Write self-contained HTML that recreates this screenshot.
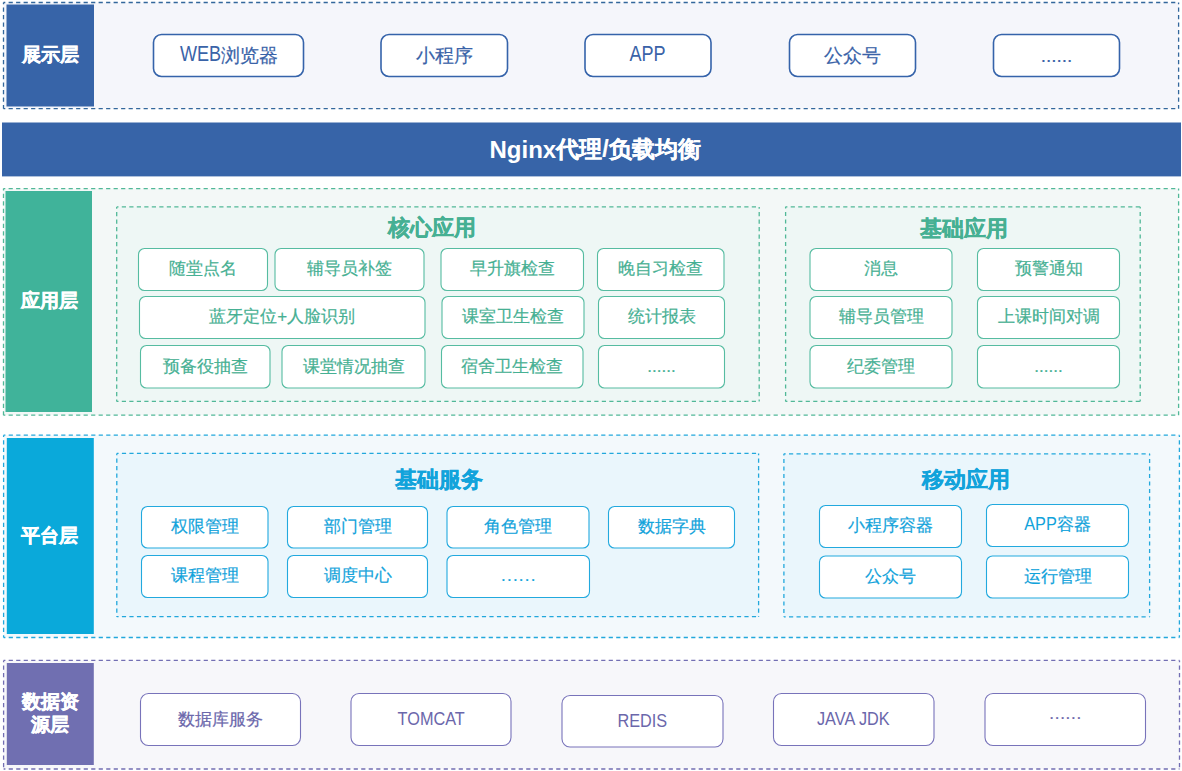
<!DOCTYPE html>
<html><head><meta charset="utf-8"><style>
html,body{margin:0;padding:0;background:#fff;}
body{width:1182px;height:771px;position:relative;overflow:hidden;font-family:"Liberation Sans",sans-serif;}
svg{position:absolute;left:0;top:0;}
.l{display:inline-block;transform-origin:50% 50%;-webkit-text-stroke-width:0;}
.t{position:absolute;display:flex;align-items:center;justify-content:center;text-align:center;white-space:nowrap;line-height:1;}
</style></head><body>
<svg width="1182" height="771" viewBox="0 0 1182 771">
<rect x="3.5" y="2.5" width="1175.10" height="106.20" fill="#f5f6fb"/>
<line x1="3.5" y1="2.5" x2="1178.6" y2="2.5" stroke="#33679c" stroke-width="1.3" stroke-dasharray="4.2 3.3" stroke-dashoffset="2.4"/>
<line x1="3.5" y1="2.5" x2="3.5" y2="108.7" stroke="#33679c" stroke-width="1.3" stroke-dasharray="4.2 3.3" stroke-dashoffset="2.4"/>
<line x1="1178.6" y1="2.5" x2="1178.6" y2="108.7" stroke="#33679c" stroke-width="1.3" stroke-dasharray="4.2 3.3" stroke-dashoffset="2.4"/>
<line x1="3.5" y1="108.7" x2="1178.6" y2="108.7" stroke="#33679c" stroke-width="1.3" stroke-dasharray="4.2 3.3" stroke-dashoffset="2.4"/>
<rect x="6.5" y="4.5" width="87.50" height="102.00" rx="0" fill="#3764a8" stroke="none" stroke-width="1"/>
<rect x="153.5" y="34.5" width="150.00" height="42.00" rx="8" fill="#fff" stroke="#3563aa" stroke-width="1.6"/>
<rect x="381" y="34.5" width="126.50" height="42.00" rx="8" fill="#fff" stroke="#3563aa" stroke-width="1.6"/>
<rect x="585" y="34.5" width="126.00" height="42.00" rx="8" fill="#fff" stroke="#3563aa" stroke-width="1.6"/>
<rect x="789.5" y="34.5" width="126.00" height="42.00" rx="8" fill="#fff" stroke="#3563aa" stroke-width="1.6"/>
<rect x="993.5" y="34.5" width="126.00" height="42.00" rx="8" fill="#fff" stroke="#3563aa" stroke-width="1.6"/>
<rect x="2" y="122.5" width="1179.00" height="53.90" rx="0" fill="#3764a8" stroke="none" stroke-width="1"/>
<rect x="3.5" y="188.6" width="1175.10" height="226.60" fill="#f3f8f7"/>
<line x1="3.5" y1="188.6" x2="1178.6" y2="188.6" stroke="#52b898" stroke-width="1.3" stroke-dasharray="4.2 3.3" stroke-dashoffset="2.4"/>
<line x1="3.5" y1="188.6" x2="3.5" y2="415.2" stroke="#52b898" stroke-width="1.3" stroke-dasharray="4.2 3.3" stroke-dashoffset="2.4"/>
<line x1="1178.6" y1="188.6" x2="1178.6" y2="415.2" stroke="#52b898" stroke-width="1.3" stroke-dasharray="4.2 3.3" stroke-dashoffset="2.4"/>
<line x1="3.5" y1="415.2" x2="1178.6" y2="415.2" stroke="#52b898" stroke-width="1.3" stroke-dasharray="4.2 3.3" stroke-dashoffset="2.4"/>
<rect x="5.5" y="191" width="86.50" height="221.00" rx="0" fill="#40b39a" stroke="none" stroke-width="1"/>
<rect x="116.7" y="206.9" width="642.50" height="194.50" fill="#eef7f5"/>
<line x1="116.7" y1="206.9" x2="759.2" y2="206.9" stroke="#52b898" stroke-width="1.3" stroke-dasharray="4.2 3.3" stroke-dashoffset="2.4"/>
<line x1="116.7" y1="206.9" x2="116.7" y2="401.4" stroke="#52b898" stroke-width="1.3" stroke-dasharray="4.2 3.3" stroke-dashoffset="2.4"/>
<line x1="759.2" y1="206.9" x2="759.2" y2="401.4" stroke="#52b898" stroke-width="1.3" stroke-dasharray="4.2 3.3" stroke-dashoffset="2.4"/>
<line x1="116.7" y1="401.4" x2="759.2" y2="401.4" stroke="#52b898" stroke-width="1.3" stroke-dasharray="4.2 3.3" stroke-dashoffset="2.4"/>
<rect x="785.6" y="206.8" width="354.60" height="194.60" fill="#eef7f5"/>
<line x1="785.6" y1="206.8" x2="1140.2" y2="206.8" stroke="#52b898" stroke-width="1.3" stroke-dasharray="4.2 3.3" stroke-dashoffset="2.4"/>
<line x1="785.6" y1="206.8" x2="785.6" y2="401.4" stroke="#52b898" stroke-width="1.3" stroke-dasharray="4.2 3.3" stroke-dashoffset="2.4"/>
<line x1="1140.2" y1="206.8" x2="1140.2" y2="401.4" stroke="#52b898" stroke-width="1.3" stroke-dasharray="4.2 3.3" stroke-dashoffset="2.4"/>
<line x1="785.6" y1="401.4" x2="1140.2" y2="401.4" stroke="#52b898" stroke-width="1.3" stroke-dasharray="4.2 3.3" stroke-dashoffset="2.4"/>
<rect x="138.5" y="248.5" width="129.00" height="42.00" rx="6" fill="#fff" stroke="#56bca1" stroke-width="1.1"/>
<rect x="275" y="248.5" width="149.00" height="42.00" rx="6" fill="#fff" stroke="#56bca1" stroke-width="1.1"/>
<rect x="441" y="248.5" width="142.50" height="42.00" rx="6" fill="#fff" stroke="#56bca1" stroke-width="1.1"/>
<rect x="597.5" y="248.5" width="126.50" height="42.00" rx="6" fill="#fff" stroke="#56bca1" stroke-width="1.1"/>
<rect x="139.5" y="296.5" width="285.50" height="42.00" rx="6" fill="#fff" stroke="#56bca1" stroke-width="1.1"/>
<rect x="442" y="296.5" width="142.00" height="42.00" rx="6" fill="#fff" stroke="#56bca1" stroke-width="1.1"/>
<rect x="598.5" y="296.5" width="126.00" height="42.00" rx="6" fill="#fff" stroke="#56bca1" stroke-width="1.1"/>
<rect x="140.5" y="345.5" width="129.50" height="42.50" rx="6" fill="#fff" stroke="#56bca1" stroke-width="1.1"/>
<rect x="282" y="345.5" width="143.00" height="42.50" rx="6" fill="#fff" stroke="#56bca1" stroke-width="1.1"/>
<rect x="441.5" y="345.5" width="141.50" height="42.50" rx="6" fill="#fff" stroke="#56bca1" stroke-width="1.1"/>
<rect x="598.5" y="345.5" width="126.00" height="42.50" rx="6" fill="#fff" stroke="#56bca1" stroke-width="1.1"/>
<rect x="810" y="248.5" width="142.00" height="42.00" rx="6" fill="#fff" stroke="#56bca1" stroke-width="1.1"/>
<rect x="977.5" y="248.5" width="142.00" height="42.00" rx="6" fill="#fff" stroke="#56bca1" stroke-width="1.1"/>
<rect x="810" y="296.5" width="142.00" height="42.00" rx="6" fill="#fff" stroke="#56bca1" stroke-width="1.1"/>
<rect x="977.5" y="296.5" width="142.00" height="42.00" rx="6" fill="#fff" stroke="#56bca1" stroke-width="1.1"/>
<rect x="810" y="345.5" width="142.00" height="42.50" rx="6" fill="#fff" stroke="#56bca1" stroke-width="1.1"/>
<rect x="977.5" y="345.5" width="142.00" height="42.50" rx="6" fill="#fff" stroke="#56bca1" stroke-width="1.1"/>
<rect x="3.6" y="435.2" width="1175.80" height="202.30" fill="#f3f9fc"/>
<line x1="3.6" y1="435.2" x2="1179.4" y2="435.2" stroke="#22a8dc" stroke-width="1.3" stroke-dasharray="4.2 3.3" stroke-dashoffset="2.4"/>
<line x1="3.6" y1="435.2" x2="3.6" y2="637.5" stroke="#22a8dc" stroke-width="1.3" stroke-dasharray="4.2 3.3" stroke-dashoffset="2.4"/>
<line x1="1179.4" y1="435.2" x2="1179.4" y2="637.5" stroke="#22a8dc" stroke-width="1.3" stroke-dasharray="4.2 3.3" stroke-dashoffset="2.4"/>
<line x1="3.6" y1="637.5" x2="1179.4" y2="637.5" stroke="#22a8dc" stroke-width="1.3" stroke-dasharray="4.2 3.3" stroke-dashoffset="2.4"/>
<rect x="6.8" y="438" width="87.00" height="196.00" rx="0" fill="#0aa9da" stroke="none" stroke-width="1"/>
<rect x="116.8" y="453.4" width="641.80" height="163.30" fill="#eaf6fc"/>
<line x1="116.8" y1="453.4" x2="758.6" y2="453.4" stroke="#22a8dc" stroke-width="1.3" stroke-dasharray="4.2 3.3" stroke-dashoffset="2.4"/>
<line x1="116.8" y1="453.4" x2="116.8" y2="616.7" stroke="#22a8dc" stroke-width="1.3" stroke-dasharray="4.2 3.3" stroke-dashoffset="2.4"/>
<line x1="758.6" y1="453.4" x2="758.6" y2="616.7" stroke="#22a8dc" stroke-width="1.3" stroke-dasharray="4.2 3.3" stroke-dashoffset="2.4"/>
<line x1="116.8" y1="616.7" x2="758.6" y2="616.7" stroke="#22a8dc" stroke-width="1.3" stroke-dasharray="4.2 3.3" stroke-dashoffset="2.4"/>
<rect x="783.9" y="453.8" width="365.70" height="163.10" fill="#eaf6fc"/>
<line x1="783.9" y1="453.8" x2="1149.6" y2="453.8" stroke="#22a8dc" stroke-width="1.3" stroke-dasharray="4.2 3.3" stroke-dashoffset="2.4"/>
<line x1="783.9" y1="453.8" x2="783.9" y2="616.9" stroke="#22a8dc" stroke-width="1.3" stroke-dasharray="4.2 3.3" stroke-dashoffset="2.4"/>
<line x1="1149.6" y1="453.8" x2="1149.6" y2="616.9" stroke="#22a8dc" stroke-width="1.3" stroke-dasharray="4.2 3.3" stroke-dashoffset="2.4"/>
<line x1="783.9" y1="616.9" x2="1149.6" y2="616.9" stroke="#22a8dc" stroke-width="1.3" stroke-dasharray="4.2 3.3" stroke-dashoffset="2.4"/>
<rect x="141.5" y="506.5" width="126.50" height="41.50" rx="6" fill="#fff" stroke="#22a9de" stroke-width="1.1"/>
<rect x="287.5" y="506.5" width="140.00" height="41.50" rx="6" fill="#fff" stroke="#22a9de" stroke-width="1.1"/>
<rect x="447" y="506.5" width="142.00" height="41.50" rx="6" fill="#fff" stroke="#22a9de" stroke-width="1.1"/>
<rect x="608.5" y="506.5" width="126.00" height="41.50" rx="6" fill="#fff" stroke="#22a9de" stroke-width="1.1"/>
<rect x="141.5" y="555.5" width="126.50" height="42.00" rx="6" fill="#fff" stroke="#22a9de" stroke-width="1.1"/>
<rect x="287.5" y="555.5" width="140.00" height="42.00" rx="6" fill="#fff" stroke="#22a9de" stroke-width="1.1"/>
<rect x="447" y="555.5" width="142.50" height="42.00" rx="6" fill="#fff" stroke="#22a9de" stroke-width="1.1"/>
<rect x="819.5" y="505.5" width="142.00" height="42.00" rx="6" fill="#fff" stroke="#22a9de" stroke-width="1.1"/>
<rect x="986.5" y="504.5" width="142.00" height="42.00" rx="6" fill="#fff" stroke="#22a9de" stroke-width="1.1"/>
<rect x="819.5" y="556" width="142.00" height="42.00" rx="6" fill="#fff" stroke="#22a9de" stroke-width="1.1"/>
<rect x="986.5" y="556" width="142.00" height="42.00" rx="6" fill="#fff" stroke="#22a9de" stroke-width="1.1"/>
<rect x="3.6" y="660.4" width="1175.90" height="108.60" fill="#f7f7fa"/>
<line x1="3.6" y1="660.4" x2="1179.5" y2="660.4" stroke="#736fb3" stroke-width="1.3" stroke-dasharray="4.2 3.3" stroke-dashoffset="2.4"/>
<line x1="3.6" y1="660.4" x2="3.6" y2="769" stroke="#736fb3" stroke-width="1.3" stroke-dasharray="4.2 3.3" stroke-dashoffset="2.4"/>
<line x1="1179.5" y1="660.4" x2="1179.5" y2="769" stroke="#736fb3" stroke-width="1.3" stroke-dasharray="4.2 3.3" stroke-dashoffset="2.4"/>
<line x1="3.6" y1="769" x2="1179.5" y2="769" stroke="#736fb3" stroke-width="1.3" stroke-dasharray="4.2 3.3" stroke-dashoffset="2.4"/>
<rect x="6.8" y="663" width="87.00" height="102.00" rx="0" fill="#706fb1" stroke="none" stroke-width="1"/>
<rect x="140.5" y="693.5" width="160.00" height="52.00" rx="8" fill="#fff" stroke="#7873ba" stroke-width="1.1"/>
<rect x="351" y="693.5" width="160.00" height="52.00" rx="8" fill="#fff" stroke="#7873ba" stroke-width="1.1"/>
<rect x="562" y="695.5" width="161.00" height="51.50" rx="8" fill="#fff" stroke="#7873ba" stroke-width="1.1"/>
<rect x="773.5" y="693.5" width="160.50" height="52.00" rx="8" fill="#fff" stroke="#7873ba" stroke-width="1.1"/>
<rect x="985" y="693.5" width="160.50" height="52.00" rx="8" fill="#fff" stroke="#7873ba" stroke-width="1.1"/>
</svg>
<div class="t" style="left:-149.70px;top:25.50px;width:400.00px;height:60.00px;color:#fff;font-size:18.5px;font-weight:700;-webkit-text-stroke:0.45px #fff">展示层</div>
<div class="t" style="left:153.50px;top:34.00px;width:150.00px;height:42.00px;color:#3a63a8;font-size:19px;font-weight:400;-webkit-text-stroke:0.2px #3a63a8"><span class="l" style="font-size:21.5px;transform:scaleX(0.84);position:relative;top:0px;margin:0 -3.92px;">WEB</span>浏览器</div>
<div class="t" style="left:381.00px;top:34.00px;width:126.50px;height:42.00px;color:#3a63a8;font-size:19px;font-weight:400;-webkit-text-stroke:0.2px #3a63a8">小程序</div>
<div class="t" style="left:585.00px;top:34.00px;width:126.00px;height:42.00px;color:#3a63a8;font-size:19px;font-weight:400;-webkit-text-stroke:0.2px #3a63a8"><span class="l" style="font-size:21.5px;transform:scaleX(0.84);position:relative;top:0px;margin:0 -3.44px;">APP</span></div>
<div class="t" style="left:789.50px;top:34.00px;width:126.00px;height:42.00px;color:#3a63a8;font-size:19px;font-weight:400;-webkit-text-stroke:0.2px #3a63a8">公众号</div>
<div class="t" style="left:993.50px;top:34.00px;width:126.00px;height:42.00px;color:#3a63a8;font-size:19px;font-weight:400;-webkit-text-stroke:0.2px #3a63a8">......</div>
<div class="t" style="left:395.00px;top:119.50px;width:400.00px;height:60.00px;color:#fff;font-size:23px;font-weight:700;-webkit-text-stroke:0.2px #fff"><span class="l" style="font-size:24px;transform:scaleX(1.0);position:relative;top:0px;margin:0 -0.00px;">Nginx</span>代理/负载均衡</div>
<div class="t" style="left:-150.70px;top:271.50px;width:400.00px;height:60.00px;color:#fff;font-size:18.5px;font-weight:700;-webkit-text-stroke:0.45px #fff">应用层</div>
<div class="t" style="left:232.00px;top:198.30px;width:400.00px;height:60.00px;color:#46b093;font-size:22px;font-weight:700;-webkit-text-stroke:0.35px #46b093">核心应用</div>
<div class="t" style="left:763.80px;top:199.00px;width:400.00px;height:60.00px;color:#46b093;font-size:22px;font-weight:700;-webkit-text-stroke:0.35px #46b093">基础应用</div>
<div class="t" style="left:138.50px;top:247.80px;width:129.00px;height:42.00px;color:#46b093;font-size:17px;font-weight:400;-webkit-text-stroke:0.2px #46b093">随堂点名</div>
<div class="t" style="left:275.00px;top:247.80px;width:149.00px;height:42.00px;color:#46b093;font-size:17px;font-weight:400;-webkit-text-stroke:0.2px #46b093">辅导员补签</div>
<div class="t" style="left:441.00px;top:247.80px;width:142.50px;height:42.00px;color:#46b093;font-size:17px;font-weight:400;-webkit-text-stroke:0.2px #46b093">早升旗检查</div>
<div class="t" style="left:597.50px;top:247.80px;width:126.50px;height:42.00px;color:#46b093;font-size:17px;font-weight:400;-webkit-text-stroke:0.2px #46b093">晚自习检查</div>
<div class="t" style="left:139.50px;top:295.80px;width:285.50px;height:42.00px;color:#46b093;font-size:17px;font-weight:400;-webkit-text-stroke:0.2px #46b093">蓝牙定位+人脸识别</div>
<div class="t" style="left:442.00px;top:295.80px;width:142.00px;height:42.00px;color:#46b093;font-size:17px;font-weight:400;-webkit-text-stroke:0.2px #46b093">课室卫生检查</div>
<div class="t" style="left:598.50px;top:295.80px;width:126.00px;height:42.00px;color:#46b093;font-size:17px;font-weight:400;-webkit-text-stroke:0.2px #46b093">统计报表</div>
<div class="t" style="left:140.50px;top:344.80px;width:129.50px;height:42.50px;color:#46b093;font-size:17px;font-weight:400;-webkit-text-stroke:0.2px #46b093">预备役抽查</div>
<div class="t" style="left:282.00px;top:344.80px;width:143.00px;height:42.50px;color:#46b093;font-size:17px;font-weight:400;-webkit-text-stroke:0.2px #46b093">课堂情况抽查</div>
<div class="t" style="left:441.50px;top:344.80px;width:141.50px;height:42.50px;color:#46b093;font-size:17px;font-weight:400;-webkit-text-stroke:0.2px #46b093">宿舍卫生检查</div>
<div class="t" style="left:598.50px;top:344.80px;width:126.00px;height:42.50px;color:#46b093;font-size:17px;font-weight:400;-webkit-text-stroke:0.2px #46b093">......</div>
<div class="t" style="left:810.00px;top:247.80px;width:142.00px;height:42.00px;color:#46b093;font-size:17px;font-weight:400;-webkit-text-stroke:0.2px #46b093">消息</div>
<div class="t" style="left:977.50px;top:247.80px;width:142.00px;height:42.00px;color:#46b093;font-size:17px;font-weight:400;-webkit-text-stroke:0.2px #46b093">预警通知</div>
<div class="t" style="left:810.00px;top:295.80px;width:142.00px;height:42.00px;color:#46b093;font-size:17px;font-weight:400;-webkit-text-stroke:0.2px #46b093">辅导员管理</div>
<div class="t" style="left:977.50px;top:295.80px;width:142.00px;height:42.00px;color:#46b093;font-size:17px;font-weight:400;-webkit-text-stroke:0.2px #46b093">上课时间对调</div>
<div class="t" style="left:810.00px;top:344.80px;width:142.00px;height:42.50px;color:#46b093;font-size:17px;font-weight:400;-webkit-text-stroke:0.2px #46b093">纪委管理</div>
<div class="t" style="left:977.50px;top:344.80px;width:142.00px;height:42.50px;color:#46b093;font-size:17px;font-weight:400;-webkit-text-stroke:0.2px #46b093">......</div>
<div class="t" style="left:-150.20px;top:506.00px;width:400.00px;height:60.00px;color:#fff;font-size:18.5px;font-weight:700;-webkit-text-stroke:0.45px #fff">平台层</div>
<div class="t" style="left:238.60px;top:450.00px;width:400.00px;height:60.00px;color:#12a3db;font-size:22px;font-weight:700;-webkit-text-stroke:0.35px #12a3db">基础服务</div>
<div class="t" style="left:765.90px;top:450.00px;width:400.00px;height:60.00px;color:#12a3db;font-size:22px;font-weight:700;-webkit-text-stroke:0.35px #12a3db">移动应用</div>
<div class="t" style="left:141.50px;top:505.50px;width:126.50px;height:41.50px;color:#12a3db;font-size:17px;font-weight:400;-webkit-text-stroke:0.2px #12a3db">权限管理</div>
<div class="t" style="left:287.50px;top:505.50px;width:140.00px;height:41.50px;color:#12a3db;font-size:17px;font-weight:400;-webkit-text-stroke:0.2px #12a3db">部门管理</div>
<div class="t" style="left:447.00px;top:505.50px;width:142.00px;height:41.50px;color:#12a3db;font-size:17px;font-weight:400;-webkit-text-stroke:0.2px #12a3db">角色管理</div>
<div class="t" style="left:608.50px;top:505.50px;width:126.00px;height:41.50px;color:#12a3db;font-size:17px;font-weight:400;-webkit-text-stroke:0.2px #12a3db">数据字典</div>
<div class="t" style="left:141.50px;top:554.50px;width:126.50px;height:42.00px;color:#12a3db;font-size:17px;font-weight:400;-webkit-text-stroke:0.2px #12a3db">课程管理</div>
<div class="t" style="left:287.50px;top:554.50px;width:140.00px;height:42.00px;color:#12a3db;font-size:17px;font-weight:400;-webkit-text-stroke:0.2px #12a3db">调度中心</div>
<div class="t" style="left:447.00px;top:554.50px;width:142.50px;height:42.00px;color:#12a3db;font-size:17px;font-weight:400;-webkit-text-stroke:0.2px #12a3db"><span style="letter-spacing:1.2px;margin-left:1.2px">......</span></div>
<div class="t" style="left:819.50px;top:504.50px;width:142.00px;height:42.00px;color:#12a3db;font-size:17px;font-weight:400;-webkit-text-stroke:0.2px #12a3db">小程序容器</div>
<div class="t" style="left:986.50px;top:503.50px;width:142.00px;height:42.00px;color:#12a3db;font-size:17px;font-weight:400;-webkit-text-stroke:0.2px #12a3db"><span class="l" style="font-size:18.5px;transform:scaleX(0.88);position:relative;top:0px;margin:0 -2.22px;">APP</span>容器</div>
<div class="t" style="left:819.50px;top:555.00px;width:142.00px;height:42.00px;color:#12a3db;font-size:17px;font-weight:400;-webkit-text-stroke:0.2px #12a3db">公众号</div>
<div class="t" style="left:986.50px;top:555.00px;width:142.00px;height:42.00px;color:#12a3db;font-size:17px;font-weight:400;-webkit-text-stroke:0.2px #12a3db">运行管理</div>
<div class="t" style="left:-149.70px;top:683.00px;width:400.00px;height:60.00px;color:#fff;font-size:19px;font-weight:700;line-height:23px;-webkit-text-stroke:0.45px #fff">数据资<br>源层</div>
<div class="t" style="left:140.50px;top:693.00px;width:160.00px;height:52.00px;color:#6b67ab;font-size:17px;font-weight:400;-webkit-text-stroke:0.2px #6b67ab">数据库服务</div>
<div class="t" style="left:351.00px;top:693.00px;width:160.00px;height:52.00px;color:#6b67ab;font-size:17px;font-weight:400;-webkit-text-stroke:0.2px #6b67ab"><span class="l" style="font-size:18.5px;transform:scaleX(0.88);position:relative;top:0px;margin:0 -4.58px;">TOMCAT</span></div>
<div class="t" style="left:562.00px;top:695.00px;width:161.00px;height:51.50px;color:#6b67ab;font-size:17px;font-weight:400;-webkit-text-stroke:0.2px #6b67ab"><span class="l" style="font-size:18.5px;transform:scaleX(0.88);position:relative;top:0px;margin:0 -3.39px;">REDIS</span></div>
<div class="t" style="left:773.50px;top:693.00px;width:160.50px;height:52.00px;color:#6b67ab;font-size:17px;font-weight:400;-webkit-text-stroke:0.2px #6b67ab"><span class="l" style="font-size:18.5px;transform:scaleX(0.88);position:relative;top:0px;margin:0 -4.96px;">JAVA JDK</span></div>
<div class="t" style="left:985.00px;top:693.00px;width:160.50px;height:52.00px;color:#6b67ab;font-size:17px;font-weight:400;-webkit-text-stroke:0.2px #6b67ab"><span style="position:relative;top:-6px;letter-spacing:0.75px;margin-left:0.75px">......</span></div>
</body></html>
